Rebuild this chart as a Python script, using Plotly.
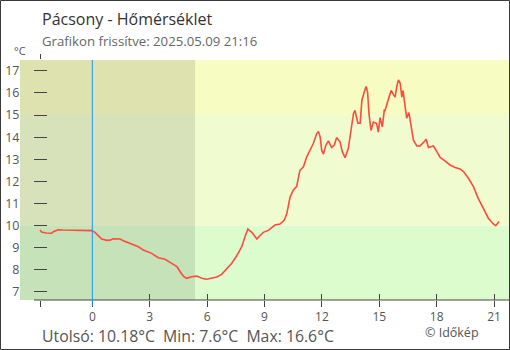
import plotly.graph_objects as go

# ---- data (hours relative to midnight of 2025-05-09, temperature in °C) ----
times = [-2.73, -2.65, -2.42, -2.12, -2.04, -1.78, -1.53, -0.91, -0.12, -0.03,
         0.14, 0.32, 0.49, 0.76, 0.93, 1.09, 1.45, 1.62, 1.88, 2.14,
         2.41, 2.67, 2.92, 3.10, 3.45, 3.80, 4.15, 4.42, 4.59, 4.76,
         4.93, 5.19, 5.46, 5.72, 5.98, 6.24, 6.51, 6.76, 7.02, 7.29,
         7.55, 7.81, 7.98, 8.13, 8.34, 8.60, 8.76, 8.94, 9.20, 9.55,
         9.81, 10.04, 10.17, 10.34, 10.51, 10.68, 10.85, 11.03, 11.21, 11.38,
         11.55, 11.73, 11.82, 11.91, 11.99, 12.08, 12.21, 12.34, 12.51, 12.65,
         12.77, 12.95, 13.07, 13.21, 13.38, 13.52, 13.65, 13.73, 13.88, 14.00,
         14.09, 14.21, 14.31, 14.39, 14.46, 14.57, 14.69, 14.86, 14.95, 15.04,
         15.16, 15.26, 15.30, 15.44, 15.62, 15.74, 15.83, 15.92, 16.00, 16.09,
         16.18, 16.24, 16.34, 16.43, 16.55, 16.66, 16.78, 16.96, 17.13, 17.30,
         17.45, 17.57, 17.74, 17.83, 18.01, 18.18, 18.43, 18.70, 18.96, 19.22,
         19.40, 19.66, 19.92, 20.17, 20.44, 20.70, 20.96, 21.09, 21.26]
temps = [9.80, 9.70, 9.66, 9.65, 9.72, 9.81, 9.80, 9.80, 9.80, 9.77,
         9.69, 9.54, 9.39, 9.33, 9.34, 9.40, 9.39, 9.31, 9.22, 9.12,
         9.04, 8.89, 8.79, 8.74, 8.54, 8.47, 8.29, 8.14, 7.91, 7.71,
         7.61, 7.68, 7.71, 7.61, 7.57, 7.61, 7.67, 7.79, 8.06, 8.29,
         8.63, 9.04, 9.49, 9.84, 9.69, 9.39, 9.54, 9.69, 9.78, 10.02,
         10.07, 10.25, 10.55, 11.30, 11.61, 11.76, 12.50, 12.65, 13.11, 13.41,
         13.71, 14.16, 14.26, 14.01, 13.41, 13.23, 13.64, 13.83, 13.53, 13.64,
         13.98, 13.78, 13.33, 13.07, 13.48, 14.30, 15.06, 15.21, 14.63, 14.63,
         15.66, 16.03, 16.29, 16.03, 15.06, 14.30, 14.68, 14.61, 14.23, 14.88,
         14.46, 15.21, 15.20, 15.61, 16.11, 15.92, 15.81, 16.32, 16.59, 16.44,
         15.81, 16.11, 15.53, 14.86, 15.11, 14.40, 13.87, 13.60, 13.60, 13.75,
         13.90, 13.53, 13.56, 13.60, 13.34, 13.08, 12.93, 12.74, 12.63, 12.56,
         12.44, 12.14, 11.76, 11.23, 10.78, 10.33, 10.07, 9.99, 10.18]

x_ticks = [0, 3, 6, 9, 12, 15, 18, 21]
y_ticks = [7, 8, 9, 10, 11, 12, 13, 14, 15, 16, 17]
band_limits = [10, 15]          # temperature band boundaries
sunrise = 5.37                  # end of night shading (hours)
midnight = 0

title = "Pácsony - Hőmérséklet"
subtitle = "Grafikon frissítve: 2025.05.09 21:16"
credit = "© Időkép"

# ---- layout geometry ----
W, H = 510, 350
x_range = [-3.78, 21.78]
y_range = [6.63, 17.49]
dom_x = [20 / W, 509 / W]
dom_y = [50 / H, 290 / H]

FONT = "Open Sans"
TXT = "#555555"
AX = "#444444"

fig = go.Figure()
fig.add_trace(go.Scatter(x=times, y=temps, mode="lines",
                         line=dict(color="#ff4a3d", width=1.6),
                         hoverinfo="skip", showlegend=False))
# empty traces so overlay axes exist
fig.add_trace(go.Scatter(x=[], y=[], xaxis="x2", yaxis="y", showlegend=False, hoverinfo="skip"))
fig.add_trace(go.Scatter(x=[], y=[], xaxis="x3", yaxis="y", showlegend=False, hoverinfo="skip"))

shapes = []
band_edges = [y_range[0]] + band_limits + [y_range[1]]
band_colors = ["#dcfccd", "#f0fcd0", "#f6fcc2"]
for i, c in enumerate(band_colors):
    shapes.append(dict(type="rect", xref="x domain", x0=0, x1=1, yref="y",
                       y0=band_edges[i], y1=band_edges[i + 1],
                       fillcolor=c, line=dict(width=0), layer="below"))
shapes.append(dict(type="rect", xref="x", x0=x_range[0], x1=sunrise, yref="y domain",
                   y0=0, y1=1, fillcolor="rgba(0,0,0,0.1)", line=dict(width=0), layer="below"))
# x axis baseline
shapes.append(dict(type="line", xref="paper", x0=34 / W, x1=509 / W, yref="y domain",
                   y0=0, y1=0, line=dict(color=AX, width=1), layer="above"))
# midnight marker
shapes.append(dict(type="line", xref="x", x0=midnight, x1=midnight, yref="y domain",
                   y0=-6 / 240, y1=1, line=dict(color="#2196f3", width=1), layer="above"))
# outer border
shapes.append(dict(type="rect", xref="paper", yref="paper", x0=0.5 / W, x1=(W - 0.5) / W,
                   y0=0.5 / H, y1=(H - 0.5) / H, line=dict(color="#3a3a3a", width=1),
                   fillcolor="rgba(0,0,0,0)", layer="above"))

last, tmin, tmax = temps[-1], min(temps), max(temps)
stats = f"Utolsó: {last:.2f}°C\u00a0\u00a0Min: {tmin:.1f}°C\u00a0\u00a0Max: {tmax:.1f}°C"

annotations = [
    dict(text=title, x=40 / W, y=1 - 19 / H, xref="paper", yref="paper",
         xanchor="left", yanchor="middle", showarrow=False,
         font=dict(family=FONT, size=16, color="#333333")),
    dict(text=subtitle, x=40 / W, y=1 - 41 / H, xref="paper", yref="paper",
         xanchor="left", yanchor="middle", showarrow=False,
         font=dict(family=FONT, size=13.2, color="#666666")),
    dict(text="°C", x=12 / W, y=1 - 51 / H, xref="paper", yref="paper",
         xanchor="left", yanchor="middle", showarrow=False,
         font=dict(family=FONT, size=11, color=TXT)),
    dict(text=stats, x=40 / W, y=1 - 335.5 / H, xref="paper", yref="paper",
         xanchor="left", yanchor="middle", showarrow=False,
         font=dict(family=FONT, size=15.8, color=TXT)),
    dict(text=credit, x=481 / W, y=1 - 332 / H, xref="paper", yref="paper",
         xanchor="right", yanchor="middle", showarrow=False,
         font=dict(family=FONT, size=12.5, color=TXT)),
]

fig.update_layout(
    width=W, height=H, margin=dict(l=0, r=0, t=0, b=0),
    paper_bgcolor="white", plot_bgcolor="rgba(0,0,0,0)",
    shapes=shapes, annotations=annotations, showlegend=False,
    xaxis=dict(domain=dom_x, range=x_range, showgrid=False, zeroline=False, showline=False,
               ticks="outside", ticklen=6, tickcolor=AX, tickwidth=1,
               tickvals=[times[0]] + x_ticks, ticktext=[""] + [str(t) for t in x_ticks],
               tickfont=dict(family=FONT, size=12, color=TXT), fixedrange=True),
    xaxis2=dict(overlaying="x", anchor="y", range=x_range, showgrid=False, zeroline=False,
                showline=False, ticks="inside", ticklen=6, tickcolor=AX,
                tickvals=x_ticks[1:], showticklabels=False, fixedrange=True),
    xaxis3=dict(overlaying="x", anchor="y", side="top", range=x_range, showgrid=False,
                zeroline=False, showline=False, ticks="outside", ticklen=5, tickcolor=AX,
                tickvals=[times[0]], showticklabels=False, fixedrange=True),
    yaxis=dict(domain=dom_y, range=y_range, anchor="free", position=47 / W,
               showgrid=False, zeroline=False, showline=False,
               ticks="outside", ticklen=13, tickcolor=AX, tickwidth=1,
               tickvals=y_ticks, ticklabelstandoff=12,
               tickfont=dict(family=FONT, size=12.5, color=TXT), fixedrange=True),
)

fig.write_html("out.html", config={"displayModeBar": False})
